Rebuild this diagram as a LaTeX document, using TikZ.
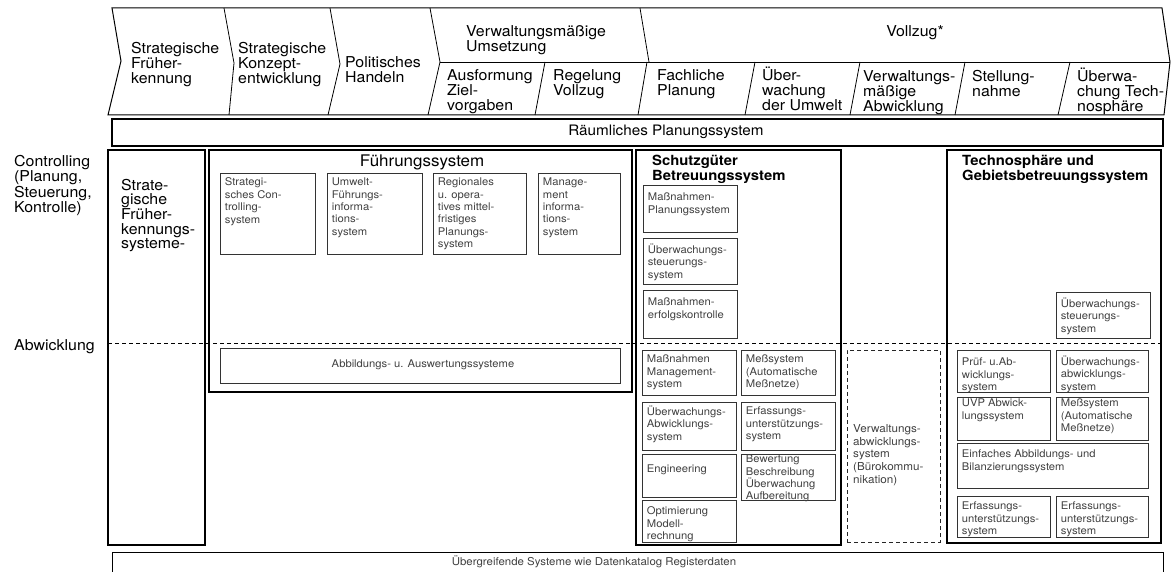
\documentclass[tikz,border=0pt]{standalone}
\usepackage{fontspec}
\setmainfont{TeX Gyre Heros}[FakeStretch=1.06]
\usetikzlibrary{fit}
\newcommand{\ibx}[7][5]{%
  \node[ibox, fit={(#3,#4)(#5,#6)}] (#2) {};
  \node[itext] (#2t) at ([shift={(5,#1)}]#2.north west) {#7};}
\begin{document}
\begin{tikzpicture}[x=1pt,y=-1pt,
  hdr/.style={font=\fontsize{15}{15}\selectfont, align=left, inner sep=0pt, anchor=north west},
  lbl/.style={font=\fontsize{15}{14.2}\selectfont, align=left, inner sep=0pt, anchor=north west},
  ttl/.style={font=\bfseries\fontsize{14}{15}\selectfont, align=left, inner sep=0pt, anchor=north west},
  itext/.style={font=\fontsize{10.6}{12.4}\selectfont, text=black!75, align=left, inner sep=0pt, anchor=north west},
  ibox/.style={draw=black!80, line width=0.6pt, inner sep=0pt},
  dbox/.style={draw=black!85, line width=0.8pt, dash pattern=on 4pt off 3pt, inner sep=0pt},
  mainbox/.style={draw, line width=1.4pt, inner sep=0pt},
  hline/.style={line width=0.8pt}]
\useasboundingbox (0,0) rectangle (1171,572);

% ---------- header ----------
\draw[hline, line width=1pt] (112,8) -- (1162,8) -- (1170,62) -- (1164,115) -- (108,115) -- (121,61) -- cycle;
\draw[hline] (224,8) -- (234,63) -- (229,115);
\draw[hline] (330,8) -- (340,64) -- (328,115);
\draw[hline] (430,8) -- (440,62) -- (428,115);
\draw[hline] (440,62) -- (1170,62);
\draw[hline] (640,8) -- (649,62);
\draw[hline] (545,62) -- (535,115);
\draw[hline] (647,62) -- (638,115);
\draw[hline] (755,62) -- (745,115);
\draw[hline] (860,62) -- (850,115);
\draw[hline] (965,62) -- (955,115);
\draw[hline] (1070,62) -- (1058,115);

\node[hdr] (h1) at (131,42) {Strategische\\Früher-\\kennung};
\node[hdr] (h2) at (238,42) {Strategische\\Konzept-\\entwicklung};
\node[hdr] (h3) at (345,56) {Politisches\\Handeln};
\node[hdr] (h4) at (466,25) {Verwaltungsmäßige\\Umsetzung};
\node[font=\fontsize{15}{15}\selectfont, inner sep=0pt] (h5) at (915,33) {Vollzug*};
\node[hdr] (h6) at (447,69) {Ausformung\\Ziel-\\vorgaben};
\node[hdr] (h7) at (553,69) {Regelung\\Vollzug};
\node[hdr] (h8) at (657,69) {Fachliche\\Planung};
\node[hdr] (h9) at (762,67) {Über-\\wachung\\der Umwelt};
\node[hdr] (h10) at (863,70) {Verwaltungs-\\mäßige\\Abwicklung};
\node[hdr] (h11) at (972,70) {Stellung-\\nahme};
\node[hdr] (h12) at (1077,68) {Überwa-\\chung Tech-\\nosphäre};

% ---------- Raeumliches Planungssystem ----------
\node[mainbox, fit={(112,119)(1163,146)}] (rps) {};
\node[font=\fontsize{14.4}{15}\selectfont, inner sep=0pt] (rpst) at (666,132) {Räumliches Planungssystem};

% ---------- left labels ----------
\node[lbl] (ctrl) at (14,155) {Controlling\\(Planung,\\Steuerung,\\Kontrolle)};
\node[lbl] (abw) at (14,339) {Abwicklung};

% ---------- main columns ----------
\node[mainbox, fit={(108,150)(205,545)}] (strat) {};
\node[lbl] (stratt) at (121,179) {Strate-\\gische\\Früher-\\kennungs-\\systeme-};

\node[mainbox, fit={(209,150)(632,392)}] (fuehr) {};
\node[font=\fontsize{16}{16}\selectfont, inner sep=0pt] (fuehrt) at (422,162) {Führungssystem};

\node[mainbox, fit={(636,150)(841,545)}] (schutz) {};
\node[ttl] (schutzt) at (652,155) {Schutzgüter\\Betreuungssystem};

\node[mainbox, fit={(947,150)(1161,543)}] (tech) {};
\node[ttl] (techt) at (962,155) {Technosphäre und\\Gebietsbetreuungssystem};

% dashed divider
\draw[line width=0.9pt, dash pattern=on 4pt off 3pt] (108,343) -- (1163,343);

% ---------- Fuehrungssystem inner ----------
\ibx[5]{fa}{220}{173}{315}{254}{Strategi-\\sches Con-\\trolling-\\system}
\ibx[5]{fb}{327}{173}{422}{254}{Umwelt-\\Führungs-\\informa-\\tions-\\system}
\ibx[5]{fc}{433}{173}{526}{254}{Regionales\\u. opera-\\tives mittel-\\fristiges\\Planungs-\\system}
\ibx[5]{fd}{538}{173}{620}{254}{Manage-\\ment\\informa-\\tions-\\system}
\node[ibox, fit={(220,348)(620,383)}] (abb) {};
\node[font=\fontsize{10.6}{12.4}\selectfont, text=black!75, inner sep=0pt] (abbt) at (423,365) {Abbildungs- u. Auswertungssysteme};

% ---------- Schutzgueter inner ----------
\ibx[8]{sa}{643}{185}{737}{232}{Maßnahmen-\\Planungssystem}
\ibx[6]{sb}{643}{238}{737}{284}{Überwachungs-\\steuerungs-\\system}
\ibx[8]{sc}{643}{290}{737}{338}{Maßnahmen-\\erfolgskontrolle}
\ibx[5]{sd}{642}{350}{736}{395}{Maßnahmen\\Management-\\system}
\ibx[5]{se}{741}{350}{835}{395}{Meßsystem\\(Automatische\\Meßnetze)}
\ibx[4]{sf}{642}{402}{736}{450}{Überwachungs-\\Abwicklungs-\\system}
\ibx[5]{sg}{741}{402}{835}{450}{Erfassungs-\\unterstützungs-\\system}
\ibx[11]{sh}{642}{454}{736}{497}{Engineering}
\ibx[1]{si}{741}{454}{835}{500}{Bewertung\\Beschreibung\\Überwachung\\Aufbereitung}
\ibx[7]{sj}{642}{500}{736}{542}{Optimierung\\Modell-\\rechnung}

% ---------- Verwaltungsabwicklung ----------
\node[dbox, fit={(847,350)(940,542)}] (vas) {};
\node[font=\fontsize{11}{12.8}\selectfont, text=black!75, align=left, inner sep=0pt, anchor=north west] (vast) at (853,424) {Verwaltungs-\\abwicklungs-\\system\\(Bürokommu-\\nikation)};

% ---------- Technosphaere inner ----------
\ibx[6]{ta}{1056}{292}{1150}{338}{Überwachungs-\\steuerungs-\\system}
\ibx[8]{tb}{957}{350}{1050}{392}{Prüf- u.Ab-\\wicklungs-\\system}
\ibx[6]{tc}{1056}{350}{1148}{392}{Überwachungs-\\abwicklungs-\\system}
\ibx[2]{td}{957}{397}{1050}{440}{UVP Abwick-\\lungssystem}
\ibx[2]{te}{1056}{397}{1148}{440}{Meßsystem\\(Automatische\\Meßnetze)}
\ibx[7]{tf}{957}{443}{1148}{488}{Einfaches Abbildungs- und\\Bilanzierungssystem}
\ibx[6]{tg}{957}{496}{1050}{537}{Erfassungs-\\unterstützungs-\\system}
\ibx[6]{th}{1056}{496}{1148}{537}{Erfassungs-\\unterstützungs-\\system}

% ---------- bottom bar ----------
\draw[line width=0.7pt] (112,572) -- (112,552) -- (1163,552) -- (1163,572);
\node[font=\fontsize{10.8}{12}\selectfont, text=black!75, inner sep=0pt] (bott) at (594,562) {Übergreifende Systeme wie Datenkatalog Registerdaten};
\end{tikzpicture}
\end{document}
